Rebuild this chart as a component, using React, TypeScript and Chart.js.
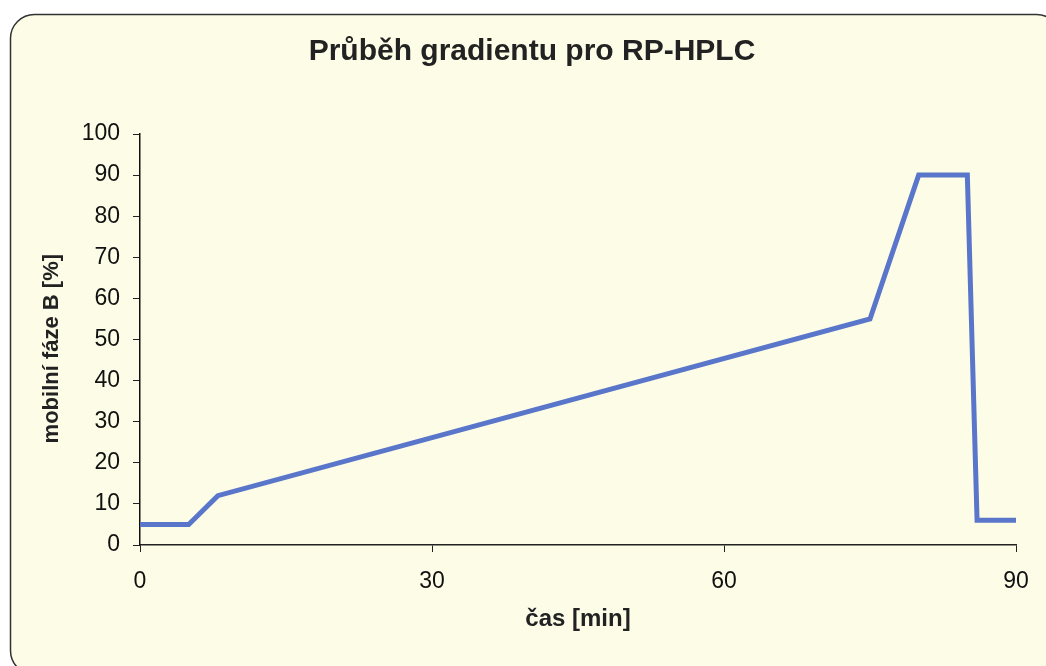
import React, { useEffect, useRef } from "react";
import { Chart, registerables } from "chart.js";

Chart.register(...registerables);

const titleText = "Průběh gradientu pro RP-HPLC";
const xAxisTitle = "čas [min]";
const yAxisTitle = "mobilní fáze B [%]   ";
const timeMin = [0, 5, 8, 75, 80, 85, 86, 90];
const phaseB = [5, 5, 12, 55, 90, 90, 6, 6];
const xTicks = [0, 30, 60, 90];
const yTicks = [0, 10, 20, 30, 40, 50, 60, 70, 80, 90, 100];

const CREAM = "#fdfde7";
const FONT = "'Liberation Sans', Arial, sans-serif";

const framePlugin = {
  id: "frame",
  beforeDraw(chart: any) {
    const ctx = chart.ctx;
    ctx.save();
    const x = 10.5, y = 14.5, w = 1050, h = 660, r = 24;
    ctx.beginPath();
    ctx.moveTo(x + r, y);
    ctx.lineTo(x + w - r, y);
    ctx.arcTo(x + w, y, x + w, y + r, r);
    ctx.lineTo(x + w, y + h - r);
    ctx.arcTo(x + w, y + h, x + w - r, y + h, r);
    ctx.lineTo(x + r, y + h);
    ctx.arcTo(x, y + h, x, y + h - r, r);
    ctx.lineTo(x, y + r);
    ctx.arcTo(x, y, x + r, y, r);
    ctx.closePath();
    ctx.fillStyle = CREAM;
    ctx.fill();
    ctx.lineWidth = 1.5;
    ctx.strokeStyle = "#333";
    ctx.stroke();
    ctx.restore();
  },
  afterDraw(chart: any) {
    const ctx = chart.ctx;
    ctx.save();
    ctx.font = `bold 30px ${FONT}`;
    ctx.fillStyle = "#222";
    ctx.textAlign = "center";
    ctx.textBaseline = "middle";
    ctx.fillText(titleText, 532, 52);
    ctx.restore();
  },
};

export default function App() {
  const ref = useRef<HTMLCanvasElement>(null);
  useEffect(() => {
    const chart = new Chart(ref.current!, {
      type: "line",
      data: {
        datasets: [
          {
            data: timeMin.map((t, i) => ({ x: t, y: phaseB[i] })),
            borderColor: "#5a76ca",
            borderWidth: 5,
            pointRadius: 0,
            tension: 0,
            fill: false,
          },
        ],
      },
      options: {
        animation: false,
        responsive: false,
        layout: { padding: { left: 0, right: 30, top: 134, bottom: 0 } },
        plugins: {
          legend: { display: false },
          tooltip: { enabled: false },
          title: { display: false },
        },
        scales: {
          x: {
            type: "linear",
            min: 0,
            max: 90,
            afterBuildTicks: (s: any) => {
              s.ticks = xTicks.map((v) => ({ value: v }));
            },
            afterFit: (s: any) => {
              s.height = 121;
            },
            ticks: {
              color: "#111",
              font: { family: FONT, size: 23 },
              padding: 16,
              maxRotation: 0,
            },
            grid: {
              drawOnChartArea: false,
              drawTicks: true,
              tickLength: 7,
              color: "#222",
            },
            border: { display: true, color: "#222", width: 1.5 },
            title: {
              display: true,
              text: xAxisTitle,
              color: "#222",
              font: { family: FONT, size: 24, weight: "bold" },
              padding: { top: 0, bottom: 32 },
            },
          },
          y: {
            min: 0,
            max: 100,
            afterBuildTicks: (s: any) => {
              s.ticks = yTicks.map((v) => ({ value: v }));
            },
            afterFit: (s: any) => {
              s.width = 140;
            },
            ticks: {
              color: "#111",
              font: { family: FONT, size: 23 },
              padding: 13,
            },
            grid: {
              drawOnChartArea: false,
              drawTicks: true,
              tickLength: 7,
              color: "#222",
            },
            border: { display: true, color: "#111", width: 1.5 },
            title: {
              display: true,
              text: yAxisTitle,
              color: "#222",
              font: { family: FONT, size: 22, weight: "bold" },
              padding: { top: 39, bottom: 0 },
            },
          },
        },
      },
      plugins: [framePlugin],
    } as any);
    return () => chart.destroy();
  }, []);
  return (
    <div style={{ position: "fixed", left: 0, top: 0, width: 1046, height: 666, background: "#fff" }}>
      <canvas ref={ref} width={1046} height={666} style={{ width: 1046, height: 666, display: "block" }} />
    </div>
  );
}
